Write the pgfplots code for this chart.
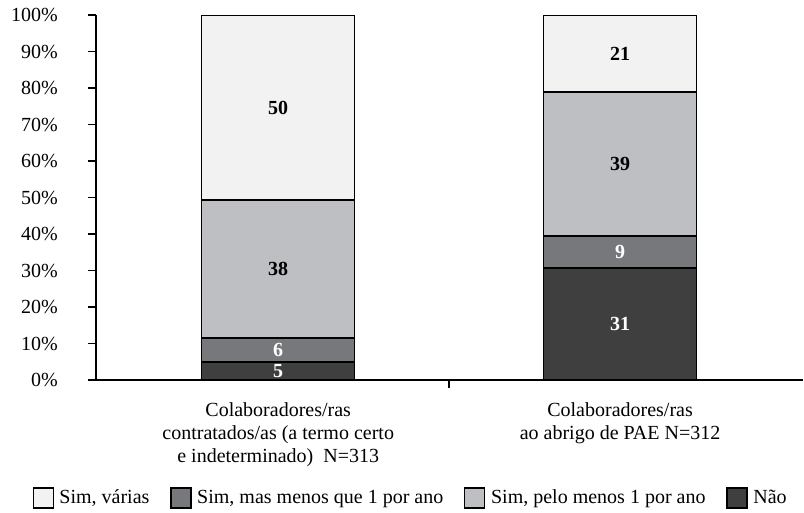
\documentclass[border=0pt]{standalone}
\usepackage{fontspec}
\setmainfont{Liberation Serif}
\usepackage{pgfplots}
\pgfplotsset{compat=1.18}
\definecolor{cVarias}{HTML}{F2F2F2}
\definecolor{cMenos}{HTML}{77787B}
\definecolor{cPelo}{HTML}{BEBFC3}
\definecolor{cNao}{HTML}{3F3F3F}
\newcommand{\myfont}{\rmfamily\fontsize{15}{17.25}\selectfont}
\begin{document}
\myfont
\begin{tikzpicture}[font=\myfont]
\useasboundingbox (-72pt,-99pt) rectangle (531pt,285pt);
\pgfplotsset{
  common/.style={at={(0,0)}, anchor=south west, scale only axis,
    width=530.25pt, height=273.75pt, xmin=-0.533, xmax=1.535, ymin=0, ymax=100},
}
\begin{axis}[common,
  ybar stacked, bar width=114.75pt,
  axis x line*=bottom, axis y line*=left,
  axis line style={line width=1pt},
  every tick/.style={black, line width=1pt},
  ytick={0,10,...,100},
  yticklabel={\pgfmathprintnumber{\tick}\%},
  /pgf/number format/assume math mode=true,
  tick align=outside, major tick length=6pt,
  xtick={0.5}, xticklabels={},
  extra x ticks={0,1},
  extra x tick labels={{Colaboradores/ras\\contratados/as (a termo certo\\e indeterminado)\ \ N=313},{Colaboradores/ras\\ao abrigo de PAE N=312}},
  extra x tick style={major tick length=0pt, tick label style={align=center, font=\myfont, yshift=-12pt}},
  tick label style={font=\myfont},
  yticklabel style={xshift=-17.5pt},
  legend image code/.code={\draw[#1, draw=black, line width=0.9pt] (0pt,-7.5pt) rectangle (15pt,7.5pt); \path (17.5pt,0pt);},
  legend style={at={(0.4455,-0.3233)}, anchor=center, draw=none, legend columns=4,
    font=\myfont,
    /tikz/every even column/.append style={column sep=13.7pt}},
  legend cell align=left,
]
\addlegendimage{fill=cVarias}
\addlegendimage{fill=cMenos}
\addlegendimage{fill=cPelo}
\addlegendimage{fill=cNao}
\legend{{Sim, várias},{Sim, mas menos que 1 por ano},{Sim, pelo menos 1 por ano},{Não}}
\addplot[fill=cNao, draw=black, line width=1.1pt] coordinates {(0,4.9) (1,30.7)};
\addplot[fill=cMenos, draw=black, line width=1.1pt] coordinates {(0,6.6) (1,8.8)};
\addplot[fill=cPelo, draw=black, line width=1.1pt] coordinates {(0,37.8) (1,39.4)};
\addplot[fill=cVarias, draw=black, line width=1.1pt] coordinates {(0,50.7) (1,21.1)};
\end{axis}
\begin{axis}[common, hide axis,
  nodes near coords, point meta=explicit symbolic,
  every node near coord/.append style={anchor=center, font=\myfont\bfseries}]
\addplot[draw=none, mark=none, every node near coord/.append style={text=white}]
  coordinates {(0,2.45)[5] (0,8.2)[6] (1,15.35)[31] (1,35.1)[9]};
\addplot[draw=none, mark=none, every node near coord/.append style={text=black}]
  coordinates {(0,30.4)[38] (0,74.65)[50] (1,59.2)[39] (1,89.45)[21]};
\end{axis}
\end{tikzpicture}
\end{document}
